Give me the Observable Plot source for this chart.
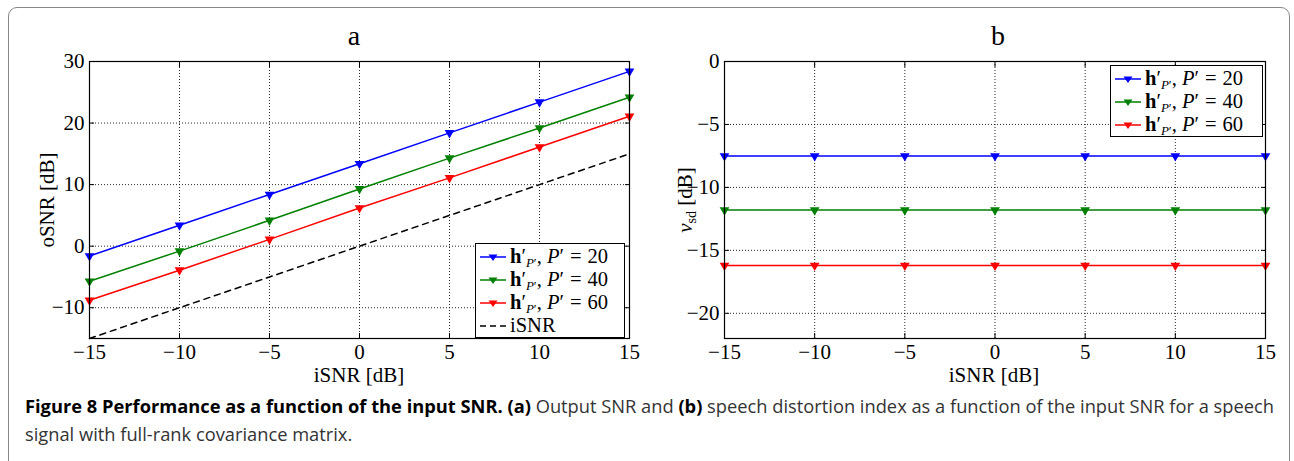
<!DOCTYPE html>
<html>
<head>
<meta charset="utf-8">
<script src="https://cdn.jsdelivr.net/npm/d3@7"></script>
<script src="https://cdn.jsdelivr.net/npm/@observablehq/plot@0.6"></script>
<style>
  body { margin: 0; background: #fff; }
  #fig { position: relative; width: 1294px; height: 461px; overflow: hidden; background: #fff; }
  #border { position: absolute; left: 8px; top: 7px; width: 1282px; height: 480px; border: 1px solid #888; border-radius: 9px; box-sizing: border-box; }
  .panel { position: absolute; top: 0; }
  .serif { font-family: "Liberation Serif", "DejaVu Serif", serif; color: #000; }
  .title { position: absolute; font-size: 28px; transform: translateX(-50%); }
  .xlab { position: absolute; font-size: 21px; line-height: 16px; transform: translateX(-50%); white-space: nowrap; }
  .ylab { position: absolute; font-size: 21px; transform: translate(-50%, -50%) rotate(-90deg); white-space: nowrap; }
  .legend { position: absolute; border: 1px solid #000; background: #fff; box-sizing: border-box; padding: 1px 2px 0 3px; }
  .row { display: flex; align-items: center; height: 23px; font-size: 20.5px; white-space: nowrap; }
  .row svg { margin-right: 3px; flex: none; }
  .row sub { font-size: 13px; vertical-align: -4px; line-height: 0; margin-left: 0px; }
  .row .eq { margin: 0 6px; }
  #caption { position: absolute; left: 25px; top: 392px; font-family: "Open Sans", "Noto Sans", sans-serif; font-size: 18.3px; line-height: 28px; color: #333; white-space: nowrap; }
  #caption b { color: #000; }
</style>
</head>
<body>
<div id="fig">
  <div id="border"></div>
</div>
<script>
// Input SNR grid (dB) shared by both panels
const isnr = [-15, -10, -5, 0, 5, 10, 15];
const xTicks = [-15, -10, -5, 0, 5, 10, 15];

// Panel a: output SNR (dB)
const osnrP20 = [-1.6, 3.4, 8.4, 13.4, 18.4, 23.4, 28.4];
const osnrP40 = [-5.7, -0.8, 4.2, 9.3, 14.3, 19.2, 24.2];
const osnrP60 = [-8.8, -3.9, 1.1, 6.2, 11.1, 16.1, 21.1];
const isnrRef = [-15, -10, -5, 0, 5, 10, 15];
const yTicksA = [-10, 0, 10, 20, 30];

// Panel b: speech distortion index (dB)
const vsdP20 = [-7.5, -7.5, -7.5, -7.5, -7.5, -7.5, -7.5];
const vsdP40 = [-11.8, -11.8, -11.8, -11.8, -11.8, -11.8, -11.8];
const vsdP60 = [-16.2, -16.2, -16.2, -16.2, -16.2, -16.2, -16.2];
const yTicksB = [-20, -15, -10, -5, 0];

const seriesNames = ["P20", "P40", "P60"];
const seriesColors = ["#0000ff", "#008000", "#ff0000"];
const seriesLabels = ["20", "40", "60"];

function longTable(arrays) {
  const rows = [];
  arrays.forEach((vals, k) => vals.forEach((v, i) => rows.push({x: isnr[i], y: v, s: seriesNames[k]})));
  return rows;
}

const gridStyle = {stroke: "#000", strokeOpacity: 0.85, strokeDasharray: "1,2", strokeWidth: 1};

function panel({rows, yDomain, yTicks, width, marginLeft, marginRight, extra = []}) {
  return Plot.plot({
    width, height: 400,
    marginLeft, marginRight, marginTop: 61, marginBottom: 62,
    style: {fontFamily: "Liberation Serif, DejaVu Serif, serif", fontSize: "21px", background: "transparent", color: "#000", overflow: "visible"},
    x: {domain: [-15, 15]},
    y: {domain: yDomain},
    color: {domain: seriesNames, range: seriesColors},
    marks: [
      Plot.gridX(xTicks, gridStyle),
      Plot.gridY(yTicks, gridStyle),
      Plot.axisX(xTicks, {anchor: "bottom", tickSize: 0, tickPadding: 6, label: null}),
      Plot.axisY(yTicks, {anchor: "left", tickSize: 0, tickPadding: 5, label: null}),
      Plot.axisX(xTicks, {anchor: "bottom", tickSize: -5, tickFormat: () => "", label: null}),
      Plot.axisX(xTicks, {anchor: "top", tickSize: -5, tickFormat: () => "", label: null}),
      Plot.axisY(yTicks, {anchor: "left", tickSize: -5, tickFormat: () => "", label: null}),
      Plot.axisY(yTicks, {anchor: "right", tickSize: -5, tickFormat: () => "", label: null}),
      ...extra,
      Plot.line(rows, {x: "x", y: "y", z: "s", stroke: "s", strokeWidth: 1.5}),
      Plot.dot(rows, {x: "x", y: "y", fill: "s", symbol: "triangle", rotate: 180, r: 3.6, stroke: "none"}),
      Plot.frame({stroke: "#000", strokeWidth: 1.2})
    ]
  });
}

const fig = document.getElementById("fig");

// Panel a
const rowsA = longTable([osnrP20, osnrP40, osnrP60]);
const refRows = isnr.map((x, i) => ({x, y: isnrRef[i]}));
const plotA = panel({
  rows: rowsA, yDomain: [-15, 30], yTicks: yTicksA,
  width: 660, marginLeft: 89, marginRight: 31,
  extra: [Plot.line(refRows, {x: "x", y: "y", stroke: "#000", strokeWidth: 1.5, strokeDasharray: "6,5"})]
});
plotA.classList.add("panel");
plotA.style.left = "0px";
fig.appendChild(plotA);

// Panel b
const rowsB = longTable([vsdP20, vsdP40, vsdP60]);
const plotB = panel({
  rows: rowsB, yDomain: [-22, 0], yTicks: yTicksB,
  width: 654, marginLeft: 84, marginRight: 29
});
plotB.classList.add("panel");
plotB.style.left = "640px";
fig.appendChild(plotB);

// Titles and axis labels
function addText(cls, html, left, top) {
  const d = document.createElement("div");
  d.className = "serif " + cls;
  d.innerHTML = html;
  d.style.left = left + "px";
  d.style.top = top + "px";
  fig.appendChild(d);
  return d;
}
addText("title", "a", 354, 20);
addText("title", "b", 998, 20);
addText("xlab", "iSNR [dB]", 359, 367);
addText("xlab", "iSNR [dB]", 994, 367);
addText("ylab", "oSNR [dB]", 47, 200);
addText("ylab", "<i>v</i><sub style='font-size:14px;vertical-align:-4px'>sd</sub> [dB]", 686, 200);

// Legends
function legendSwatch(color, dashed) {
  const ns = "http://www.w3.org/2000/svg";
  const svg = document.createElementNS(ns, "svg");
  svg.setAttribute("width", 28);
  svg.setAttribute("height", 12);
  const ln = document.createElementNS(ns, "line");
  ln.setAttribute("x1", 1); ln.setAttribute("x2", 27);
  ln.setAttribute("y1", 6); ln.setAttribute("y2", 6);
  ln.setAttribute("stroke", color);
  ln.setAttribute("stroke-width", 1.5);
  if (dashed) ln.setAttribute("stroke-dasharray", "6,4");
  svg.appendChild(ln);
  if (!dashed) {
    const tri = document.createElementNS(ns, "path");
    tri.setAttribute("d", "M9.5,3.5L18.5,3.5L14,10Z");
    tri.setAttribute("fill", color);
    svg.appendChild(tri);
  }
  return svg;
}
function legend(left, top, width, withRef) {
  const box = document.createElement("div");
  box.className = "legend serif";
  box.style.left = left + "px";
  box.style.top = top + "px";
  box.style.width = width + "px";
  seriesNames.forEach((s, k) => {
    const row = document.createElement("div");
    row.className = "row";
    row.appendChild(legendSwatch(seriesColors[k], false));
    const t = document.createElement("span");
    t.innerHTML = "<b>h</b>′<sub><i>P</i>′</sub>, <i>P</i>′<span class='eq'>=</span>" + seriesLabels[k];
    row.appendChild(t);
    box.appendChild(row);
  });
  if (withRef) {
    const row = document.createElement("div");
    row.className = "row";
    row.appendChild(legendSwatch("#000", true));
    const t = document.createElement("span");
    t.textContent = "iSNR";
    row.appendChild(t);
    box.appendChild(row);
  }
  fig.appendChild(box);
}
legend(475, 243, 150, true);
legend(1110, 65, 153, false);

// Caption
const cap = document.createElement("div");
cap.id = "caption";
cap.innerHTML = "<b>Figure 8 Performance as a function of the input SNR. (a)</b> Output SNR and <b>(b)</b> speech distortion index as a function of the input SNR for a speech<br>signal with full-rank covariance matrix.";
fig.appendChild(cap);
</script>
</body>
</html>
